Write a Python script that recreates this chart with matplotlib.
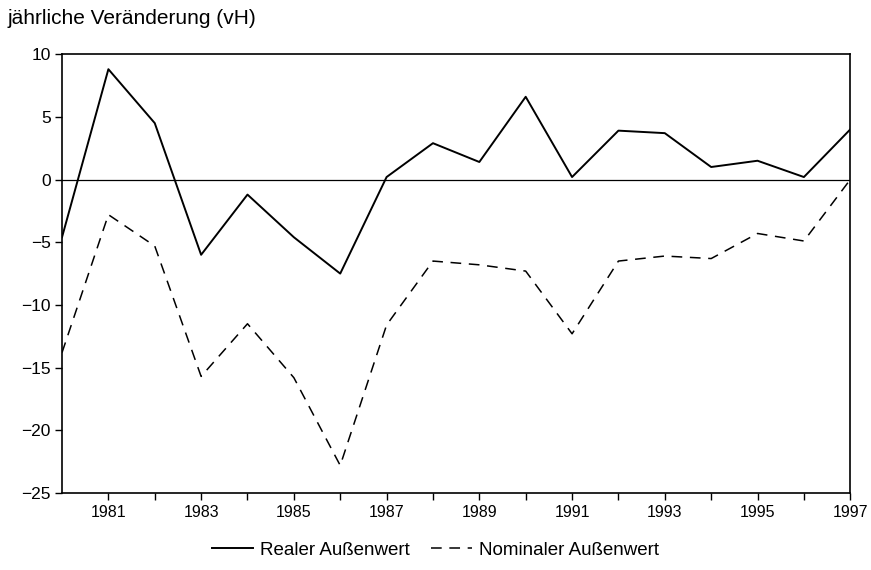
import matplotlib
matplotlib.use("Agg")
import matplotlib.pyplot as plt

plt.rcParams["font.family"] = ["Liberation Sans", "DejaVu Sans"]

years = list(range(1980, 1998))
real = [-4.6, 8.8, 4.5, -6.0, -1.2, -4.6, -7.5, 0.2, 2.9, 1.4, 6.6, 0.2,
        3.9, 3.7, 1.0, 1.5, 0.2, 4.0]
nominal = [-13.8, -2.8, -5.3, -15.7, -11.5, -15.8, -22.8, -11.6, -6.5, -6.8,
           -7.3, -12.3, -6.5, -6.1, -6.3, -4.3, -4.9, 0.0]
x_labels = list(range(1981, 1998, 2))
y_ticks = [10, 5, 0, -5, -10, -15, -20, -25]

fig = plt.figure(figsize=(8.71, 5.70), dpi=100)
ax = fig.add_axes([0.0712, 0.135, 0.905, 0.77])

ax.axhline(0, color="black", linewidth=0.9)
ax.plot(years, real, color="black", linewidth=1.4, label="Realer Außenwert")
ax.plot(years, nominal, color="black", linewidth=1.1, linestyle=(0, (7, 5)),
        label="Nominaler Außenwert")

ax.set_xlim(1980, 1997)
ax.set_ylim(-25, 10)
ax.set_xticks(years[1:])
ax.set_xticklabels([str(y) if y in x_labels else "" for y in years[1:]])
ax.set_yticks(y_ticks)
ax.set_yticklabels([str(v).replace("-", "\u2212") for v in y_ticks])
ax.tick_params(direction="out", length=5, width=1, labelsize=11.5, colors="black")
ax.tick_params(axis="y", labelsize=12.5, pad=3)
for s in ax.spines.values():
    s.set_linewidth(1.2)

fig.text(0.009, 0.968, "jährliche Veränderung (vH)", fontsize=15, va="center")

fig.legend(loc="center", bbox_to_anchor=(0.5, 0.035), ncol=2, frameon=False,
           fontsize=13.5, handlelength=2.2, handletextpad=0.4,
           columnspacing=1.1)

fig.savefig("out.png", dpi=100)
